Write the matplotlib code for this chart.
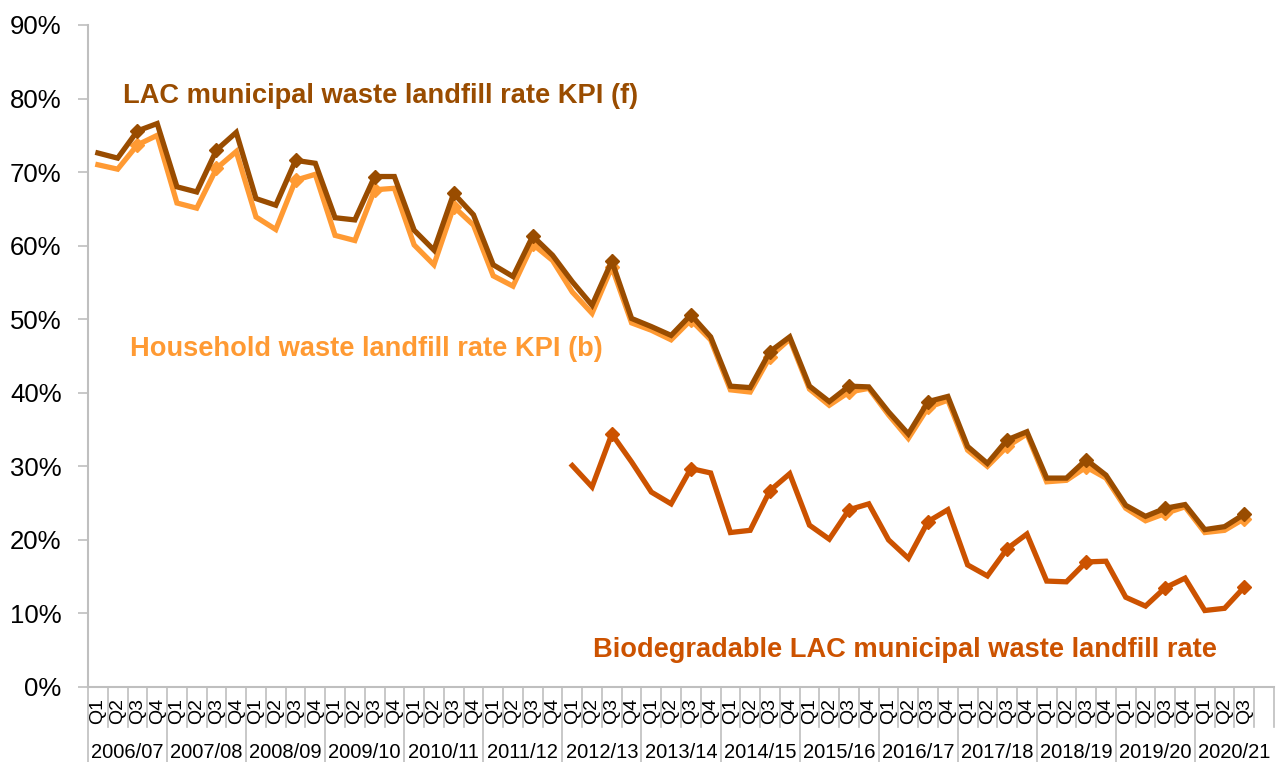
import matplotlib
matplotlib.use("Agg")
import matplotlib.pyplot as plt
import numpy as np
from matplotlib.transforms import blended_transform_factory

plt.rcParams['font.family'] = ['Liberation Sans', 'DejaVu Sans']

years = ["2006/07", "2007/08", "2008/09", "2009/10", "2010/11", "2011/12", "2012/13",
         "2013/14", "2014/15", "2015/16", "2016/17", "2017/18", "2018/19", "2019/20", "2020/21"]
quarters = ["Q1", "Q2", "Q3", "Q4"]
n_slots = len(years) * 4  # last quarter of 2020/21 is empty

lac = [72.6, 71.9, 75.6, 76.6, 68.0, 67.3, 73.0, 75.4, 66.4, 65.5, 71.6, 71.2,
       63.8, 63.5, 69.4, 69.4, 62.1, 59.4, 67.1, 64.2, 57.4, 55.8, 61.3, 58.7,
       55.1, 51.9, 57.9, 50.1, 49.0, 47.8, 50.6, 47.6, 40.9, 40.7, 45.6, 47.6,
       40.9, 38.8, 40.9, 40.8, 37.4, 34.4, 38.8, 39.5, 32.7, 30.4, 33.6, 34.7,
       28.4, 28.4, 30.9, 28.8, 24.7, 23.2, 24.3, 24.8, 21.4, 21.8, 23.5]
household = [71.0, 70.4, 73.7, 75.0, 65.8, 65.1, 70.5, 72.8, 63.9, 62.2, 68.9, 69.7,
             61.4, 60.7, 67.6, 67.8, 60.1, 57.4, 65.3, 62.8, 55.9, 54.5, 60.2, 58.0,
             53.7, 50.8, 57.1, 49.5, 48.5, 47.2, 49.9, 47.2, 40.4, 40.1, 44.9, 47.3,
             40.5, 38.3, 40.1, 40.6, 37.0, 33.8, 38.0, 39.0, 32.2, 30.0, 32.7, 34.4,
             27.9, 28.1, 29.9, 28.4, 24.3, 22.6, 23.6, 24.5, 21.0, 21.3, 22.9]
bio_start = 24
biodegradable = [30.1, 27.2, 34.4, 30.6, 26.5, 24.9, 29.7, 29.1, 21.0, 21.3, 26.7, 29.0,
                 22.0, 20.1, 24.1, 24.9, 20.0, 17.5, 22.5, 24.1, 16.6, 15.1, 18.8, 20.8,
                 14.4, 14.3, 17.0, 17.1, 12.2, 11.0, 13.5, 14.8, 10.4, 10.7, 13.6]

c_lac = '#994C00'
c_hh = '#FF9A33'
c_bio = '#CC5200'
c_axis = '#BFBFBF'

fig = plt.figure(figsize=(12.76, 7.62), dpi=100)
ax = fig.add_axes([88/1276, 1-687/762, (1274-88)/1276, (687-25)/762])

x_lac = np.arange(len(lac))
x_hh = np.arange(len(household))
x_bio = np.arange(bio_start, bio_start + len(biodegradable))

lw = 3.8
ms = 7
ax.plot(x_hh, household, color=c_hh, lw=lw, solid_joinstyle='miter', zorder=3)
ax.plot(x_hh[2::4], np.array(household)[2::4], 'D', color=c_hh, ms=ms, zorder=3)
ax.plot(x_lac, lac, color=c_lac, lw=lw, solid_joinstyle='miter', zorder=4)
ax.plot(x_lac[2::4], np.array(lac)[2::4], 'D', color=c_lac, ms=ms, zorder=4)
ax.plot(x_bio, biodegradable, color=c_bio, lw=lw, solid_joinstyle='miter', zorder=4)
bq = [i for i, x in enumerate(x_bio) if x % 4 == 2]
ax.plot(x_bio[bq], np.array(biodegradable)[bq], 'D', color=c_bio, ms=ms, zorder=4)

ax.set_xlim(-0.5, n_slots - 0.5)
ax.set_ylim(0, 90)
ax.set_yticks(np.arange(0, 91, 10))
ax.set_yticklabels([f"{v}%" for v in range(0, 91, 10)], fontsize=18.5)
ax.tick_params(axis='y', length=7, width=1.2, color=c_axis, pad=12)
ax.set_xticks([])
for s in ['top', 'right']:
    ax.spines[s].set_visible(False)
for s in ['left', 'bottom']:
    ax.spines[s].set_color(c_axis)
    ax.spines[s].set_linewidth(1.5)

# multi-level category axis
tr = blended_transform_factory(ax.transData, ax.transAxes)
ah = 662.0
q_bottom = -40 / ah
y_bottom = -75 / ah
for i in range(n_slots):
    yi, qi = divmod(i, 4)
    if not (yi == len(years) - 1 and qi == 3):
        ax.text(i, -24 / ah, quarters[qi], rotation=90, ha='center', va='center',
                fontsize=14, transform=tr, clip_on=False)
for b in range(0, n_slots + 1):
    xb = b - 0.5
    ybot = y_bottom if b % 4 == 0 else q_bottom
    if b == n_slots:
        ybot = q_bottom
    ax.plot([xb, xb], [0, ybot], color=c_axis, lw=1.2, transform=tr, clip_on=False)
for yi, yl in enumerate(years):
    ax.text(yi * 4 + 1.5, -65 / ah, yl, ha='center', va='center', fontsize=14.5,
            transform=tr, clip_on=False)

# series labels
ax.text(1.27, 79.4, "LAC municipal waste landfill rate KPI (f)", color=c_lac,
        fontsize=19.6, fontweight='bold', ha='left', va='baseline')
ax.text(1.62, 45.0, "Household waste landfill rate KPI (b)", color=c_hh,
        fontsize=19.6, fontweight='bold', ha='left', va='baseline')
ax.text(25.05, 4.1, "Biodegradable LAC municipal waste landfill rate", color=c_bio,
        fontsize=19.6, fontweight='bold', ha='left', va='baseline')

fig.savefig("out.png", dpi=100)
